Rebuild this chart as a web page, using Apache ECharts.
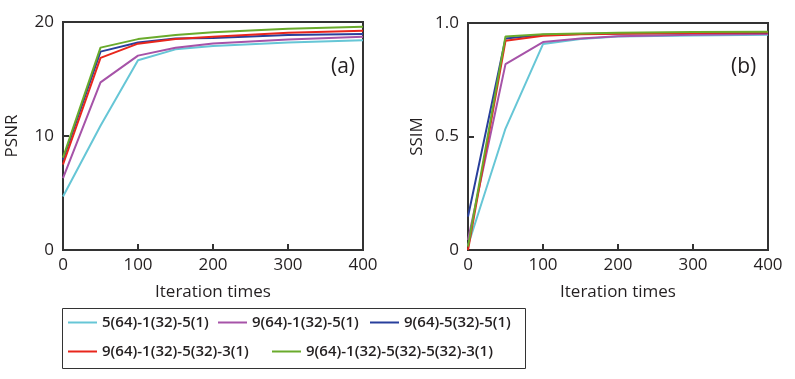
<!DOCTYPE html>
<html>
<head>
<meta charset="utf-8">
<script src="https://cdn.jsdelivr.net/npm/echarts@6/dist/echarts.min.js"></script>
<style>
  html, body { margin: 0; padding: 0; background: #fff; }
  #chart { width: 795px; height: 379px; }
</style>
</head>
<body>
<div id="chart"></div>
<script>
const iterations = [0, 50, 100, 150, 200, 300, 400];
const seriesNames = [
  "5(64)-1(32)-5(1)",
  "9(64)-1(32)-5(1)",
  "9(64)-5(32)-5(1)",
  "9(64)-1(32)-5(32)-3(1)",
  "9(64)-1(32)-5(32)-5(32)-3(1)"
];
const colors = ["#66c6d6", "#a653a8", "#283f9c", "#e8261c", "#6aab2c"];

// PSNR, panel (a)
const psnrCyan   = [4.7, 10.9, 16.65, 17.6, 17.9, 18.2, 18.4];
const psnrPurple = [6.3, 14.7, 17.05, 17.75, 18.12, 18.47, 18.7];
const psnrBlue   = [7.9, 17.4, 18.2, 18.55, 18.6, 18.85, 18.95];
const psnrRed    = [7.5, 16.85, 18.1, 18.5, 18.7, 19.05, 19.23];
const psnrGreen  = [8.1, 17.75, 18.5, 18.85, 19.1, 19.4, 19.58];

// SSIM, panel (b)
const ssimCyan   = [0.02, 0.535, 0.907, 0.93, 0.94, 0.945, 0.948];
const ssimPurple = [0.044, 0.819, 0.916, 0.932, 0.942, 0.948, 0.952];
const ssimBlue   = [0.147, 0.932, 0.948, 0.952, 0.954, 0.956, 0.957];
const ssimRed    = [0.0, 0.922, 0.944, 0.95, 0.953, 0.956, 0.958];
const ssimGreen  = [0.015, 0.941, 0.95, 0.954, 0.957, 0.96, 0.962];

const psnrData = [psnrCyan, psnrPurple, psnrBlue, psnrRed, psnrGreen];
const ssimData = [ssimCyan, ssimPurple, ssimBlue, ssimRed, ssimGreen];

const font = '"Open Sans", "DejaVu Sans", sans-serif';
const axisColor = "#333";
const textColor = "#231f20";

function xAxisFor(gridIndex) {
  return {
    type: "value", gridIndex, min: 0, max: 400, interval: 100,
    name: "Iteration times", nameLocation: "middle", nameGap: 34,
    nameTextStyle: { color: textColor, fontFamily: font, fontSize: 17 },
    axisLine: { lineStyle: { color: axisColor, width: 2 } },
    axisTick: { inside: true, length: 6, lineStyle: { color: axisColor, width: 2 } },
    axisLabel: { color: textColor, fontFamily: font, fontSize: 17, margin: 7 },
    splitLine: { show: false }
  };
}

function yAxisFor(gridIndex, name, max, interval, nameGap, fmt) {
  return {
    type: "value", gridIndex, min: 0, max, interval,
    name, nameLocation: "middle", nameGap,
    nameTextStyle: { color: textColor, fontFamily: font, fontSize: 17 },
    axisLine: { lineStyle: { color: axisColor, width: 2 } },
    axisTick: { inside: true, length: 6, lineStyle: { color: axisColor, width: 2 } },
    axisLabel: { color: textColor, fontFamily: font, fontSize: 17, margin: 9, formatter: fmt },
    splitLine: { show: false }
  };
}

const series = [];
seriesNames.forEach((name, i) => {
  series.push({
    name, type: "line", xAxisIndex: 0, yAxisIndex: 0,
    data: iterations.map((x, k) => [x, psnrData[i][k]]),
    showSymbol: false, lineStyle: { color: colors[i], width: 2 },
    itemStyle: { color: colors[i] }
  });
  series.push({
    name, type: "line", xAxisIndex: 1, yAxisIndex: 1,
    data: iterations.map((x, k) => [x, ssimData[i][k]]),
    showSymbol: false, lineStyle: { color: colors[i], width: 2 },
    itemStyle: { color: colors[i] }
  });
});

// one legend per item so each sits where the reference has it
const legendSpots = [[68, 315], [218, 315], [370, 315], [68, 344], [272, 344]];
const legend = seriesNames.map((name, i) => ({
  data: [name],
  left: legendSpots[i][0], top: legendSpots[i][1],
  padding: 0,
  icon: "rect", itemWidth: 29, itemHeight: 2,
  textStyle: { color: textColor, fontFamily: font, fontSize: 15, fontWeight: 600 },
  selectedMode: false
}));

const chart = echarts.init(document.getElementById("chart"));
chart.setOption({
  animation: false,
  backgroundColor: "#fff",
  grid: [
    { left: 63, right: 432, top: 22, bottom: 129, show: true, borderColor: axisColor, borderWidth: 2 },
    { left: 468, right: 27, top: 23, bottom: 129, show: true, borderColor: axisColor, borderWidth: 2 }
  ],
  xAxis: [xAxisFor(0), xAxisFor(1)],
  yAxis: [
    yAxisFor(0, "PSNR", 20, 10, 42, v => String(v)),
    yAxisFor(1, "SSIM", 1, 0.5, 42, v => (v === 0 ? "0" : v.toFixed(1)))
  ],
  legend,
  graphic: [
    { type: "rect", left: 60, top: 306, shape: { width: 463, height: 60 },
      style: { fill: "none", stroke: axisColor, lineWidth: 1 } },
    { type: "text", left: 331, top: 57,
      style: { text: "(a)", fill: textColor, font: '21px "Open Sans", sans-serif' } },
    { type: "text", left: 731, top: 57,
      style: { text: "(b)", fill: textColor, font: '21px "Open Sans", sans-serif' } }
  ],
  series
});
</script>
</body>
</html>
